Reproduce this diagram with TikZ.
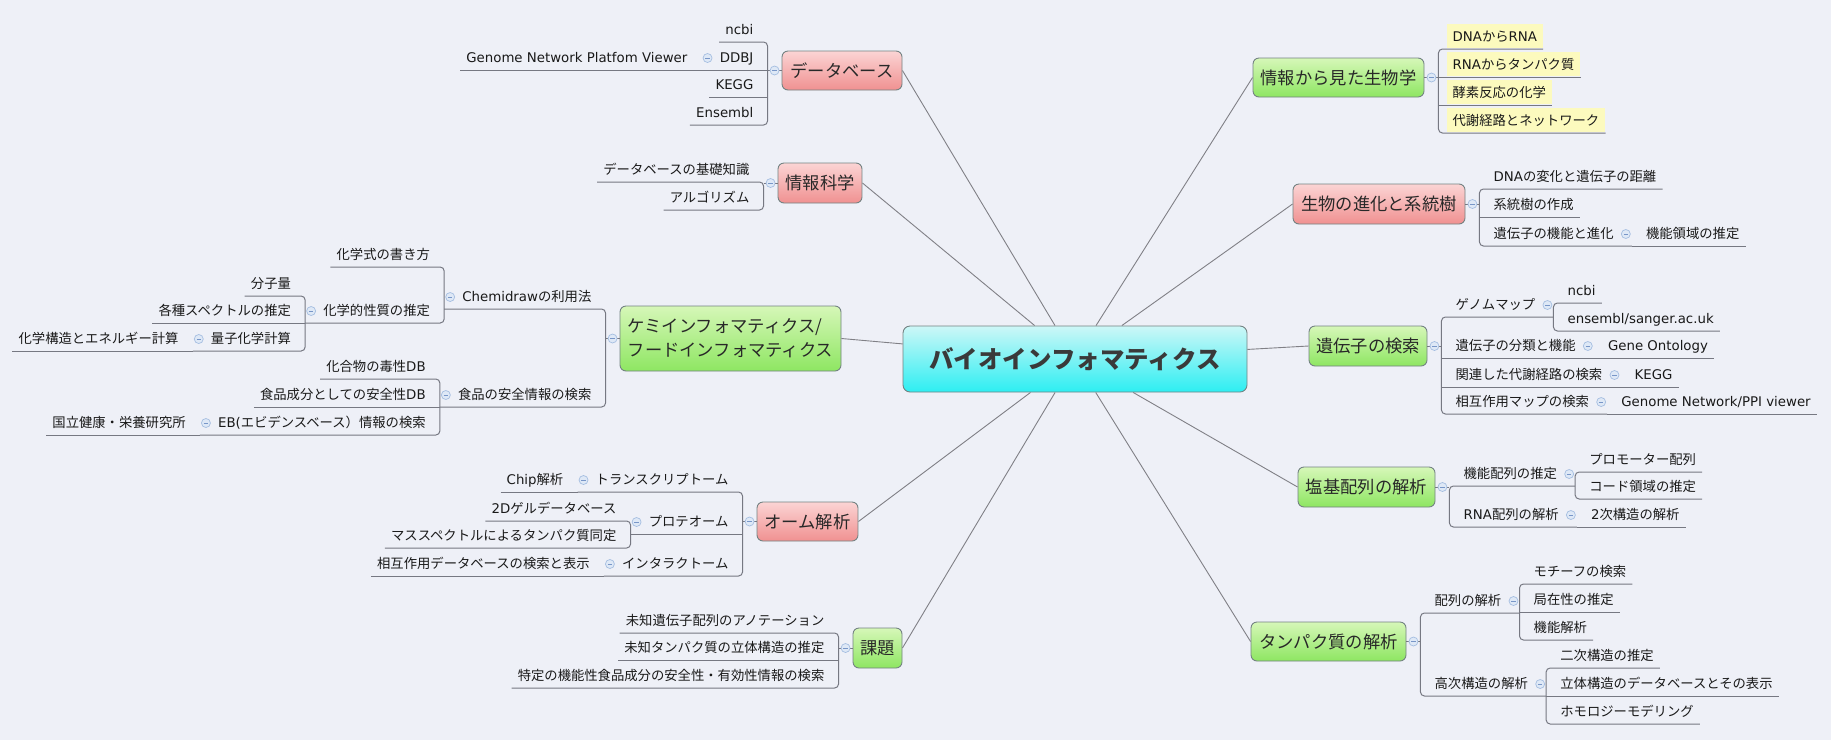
\documentclass[tikz,border=0pt]{standalone}
\usepackage{fontspec}
\setmainfont{Noto Sans CJK JP}
\newfontfamily\lat{DejaVu Sans}
\usetikzlibrary{calc}
\definecolor{bgc}{RGB}{238,240,247}
\definecolor{redtop}{RGB}{251,212,212}
\definecolor{redbot}{RGB}{240,145,145}
\definecolor{grntop}{RGB}{214,247,184}
\definecolor{grnbot}{RGB}{142,230,98}
\definecolor{cyntop}{RGB}{205,247,247}
\definecolor{cynbot}{RGB}{45,238,242}
\definecolor{bordc}{RGB}{115,130,130}
\definecolor{linec}{RGB}{118,120,130}
\definecolor{connc}{RGB}{128,128,134}
\definecolor{btnfill}{RGB}{222,232,246}
\definecolor{btndraw}{RGB}{165,190,225}
\definecolor{btnminus}{RGB}{120,150,200}
\definecolor{hlc}{RGB}{252,250,190}
\definecolor{leaftext}{RGB}{25,25,25}
\definecolor{topictext}{RGB}{40,40,40}
\definecolor{centertext}{RGB}{58,58,58}
\newcommand\leaffont{\fontsize{13.33}{16}\selectfont}
\newcommand\hlbx[1]{{\setlength{\fboxsep}{0pt}\colorbox{hlc}{\rule[-6.5pt]{0pt}{24pt}\hspace*{6pt}#1\hspace*{6pt}}}}
\begin{document}
\begin{tikzpicture}[x=1pt,y=-1pt,
 topic/.style={draw=bordc, line width=0.9pt, rounded corners=6pt, inner sep=0pt, font=\fontsize{17.3}{24}\selectfont, text=topictext},
 rt/.style={top color=redtop, bottom color=redbot},
 gt/.style={top color=grntop, bottom color=grnbot},
 leafbase/.style={inner sep=0pt, font=\leaffont, text=leaftext, text height=12pt, text depth=7pt},
 lR/.style={leafbase, anchor=south west, execute at begin node={\hspace*{14pt}}, execute at end node={\hspace*{6pt}}},
 pR/.style={leafbase, anchor=south west, execute at begin node={\hspace*{14pt}}, execute at end node={\hspace*{18pt}}},
 hlR/.style={leafbase, anchor=south west, execute at begin node={\hspace*{8pt}}},
 lL/.style={leafbase, anchor=south east, execute at begin node={\hspace*{6pt}}, execute at end node={\hspace*{14pt}}},
 pL/.style={leafbase, anchor=south east, execute at begin node={\hspace*{18pt}}, execute at end node={\hspace*{14pt}}},
 ln/.style={draw=linec, line width=1pt},
 br/.style={ln, rounded corners=4pt},
 conn/.style={draw=connc, line width=0.9pt},
 btn/.style={circle, inner sep=0pt, minimum size=9pt, fill=btnfill, draw=btndraw, line width=0.7pt,
   path picture={\draw[draw=btnminus, line width=0.9pt] ([xshift=-2.2pt]path picture bounding box.center) -- ([xshift=2.2pt]path picture bounding box.center);}}
]
\fill[bgc] (0,0) rectangle (1831,740);
\useasboundingbox (0,0) rectangle (1831,740);

% ---------- central and main topics ----------
\node[draw=bordc, line width=0.9pt, rounded corners=7pt, top color=cyntop, bottom color=cynbot, minimum width=344pt, minimum height=66pt, inner sep=0pt, font=\fontsize{24.5}{28}\selectfont\bfseries, text=centertext] (c) at (1075,359) {バイオインフォマティクス};

\node[topic, rt, minimum width=120pt, minimum height=39pt] (db) at (842,70.5) {データベース};
\node[topic, rt, minimum width=84pt, minimum height=40pt] (info) at (820,183) {情報科学};
\node[topic, gt, minimum width=221pt, minimum height=65pt, align=left] (chem) at (730.5,338.5) {ケミインフォマティクス/\\フードインフォマティクス};
\node[topic, rt, minimum width=101pt, minimum height=39pt] (ome) at (807.5,521.5) {オーム解析};
\node[topic, gt, minimum width=49pt, minimum height=40pt] (kadai) at (877.5,648) {課題};
\node[topic, gt, minimum width=171pt, minimum height=39pt] (bio) at (1338.5,77.5) {情報から見た生物学};
\node[topic, rt, minimum width=172pt, minimum height=40pt] (evo) at (1379,204) {生物の進化と系統樹};
\node[topic, gt, minimum width=118pt, minimum height=40pt] (gene) at (1368,346) {遺伝子の検索};
\node[topic, gt, minimum width=137pt, minimum height=40pt] (base) at (1366.5,487) {塩基配列の解析};
\node[topic, gt, minimum width=155pt, minimum height=39pt] (prot) at (1328.5,641.5) {タンパク質の解析};

\foreach \n in {db,info,chem,ome,kadai} \draw[conn] (c) -- (\n.east);
\foreach \n in {bio,evo,gene,base,prot} \draw[conn] (c) -- (\n.west);

% ---------- right: bio ----------
\node[hlR] (b1) at ($(bio.east)+(14,-28.5)$) {\hlbx{{\lat DNA}から{\lat RNA}}};
\node[hlR] (b2) at ($(bio.east)+(14,-0.5)$) {\hlbx{{\lat RNA}からタンパク質}};
\node[hlR] (b3) at ($(bio.east)+(14,27.5)$) {\hlbx{酵素反応の化学}};
\node[hlR] (b4) at ($(bio.east)+(14,55.5)$) {\hlbx{代謝経路とネットワーク}};
\draw[ln] (bio.east) -- (bio.east -| b1.south west);
\draw[br] (b1.south east) -- (b1.south west) -- (b4.south west) -- (b4.south east);
\draw[ln] (b2.south west) -- (b2.south east);
\draw[ln] (b3.south west) -- (b3.south east);
\node[btn] at ($(bio.east)+(7,0)$) {};

% ---------- right: evo ----------
\node[lR] (e1) at ($(evo.east)+(14,-15)$) {{\lat DNA}の変化と遺伝子の距離};
\node[lR] (e2) at ($(evo.east)+(14,13)$) {系統樹の作成};
\node[pR] (e3) at ($(evo.east)+(14,42)$) {遺伝子の機能と進化};
\node[lR] (e3a) at (e3.south east) {機能領域の推定};
\draw[ln] (evo.east) -- (evo.east -| e1.south west);
\draw[br] (e1.south east) -- (e1.south west) -- (e3.south west) -- (e3.south east);
\draw[ln] (e2.south west) -- (e2.south east);
\draw[ln] (e3a.south west) -- (e3a.south east);
\node[btn] at ($(evo.east)+(7,0)$) {};
\node[btn] at ($(e3.south east)+(-6,-12)$) {};

% ---------- right: gene ----------
\node[pR] (g1) at ($(gene.east)+(14,-29)$) {ゲノムマップ};
\node[lR] (g1a) at ($(g1.south east)+(0,-14)$) {\lat ncbi};
\node[lR] (g1b) at ($(g1.south east)+(0,14)$) {\lat ensembl/sanger.ac.uk};
\node[pR] (g2) at ($(gene.east)+(14,12)$) {遺伝子の分類と機能};
\node[lR] (g2a) at (g2.south east) {\lat Gene Ontology};
\node[pR] (g3) at ($(gene.east)+(14,41)$) {関連した代謝経路の検索};
\node[lR] (g3a) at (g3.south east) {\lat KEGG};
\node[pR] (g4) at ($(gene.east)+(14,68)$) {相互作用マップの検索};
\node[lR] (g4a) at (g4.south east) {\lat Genome Network/PPI viewer};
\draw[ln] (gene.east) -- (gene.east -| g1.south west);
\draw[br] (g1.south east) -- (g1.south west) -- (g4.south west) -- (g4.south east);
\draw[br] (g1a.south east) -- (g1a.south west) -- (g1b.south west) -- (g1b.south east);
\draw[ln] (g2.south west) -- (g2.south east);
\draw[ln] (g3.south west) -- (g3.south east);
\draw[ln] (g2a.south west) -- (g2a.south east);
\draw[ln] (g3a.south west) -- (g3a.south east);
\draw[ln] (g4a.south west) -- (g4a.south east);
\node[btn] at ($(gene.east)+(7,0)$) {};
\node[btn] at ($(g1.south east)+(-6,-12)$) {};
\node[btn] at ($(g2.south east)+(-6,-12)$) {};
\node[btn] at ($(g3.south east)+(-6,-12)$) {};
\node[btn] at ($(g4.south east)+(-6,-12)$) {};

% ---------- right: base ----------
\node[pR] (s1) at ($(base.east)+(14,-1)$) {機能配列の推定};
\node[lR] (s1a) at ($(s1.south east)+(0,-14)$) {プロモーター配列};
\node[lR] (s1b) at ($(s1.south east)+(0,13)$) {コード領域の推定};
\node[pR] (s2) at ($(base.east)+(14,40)$) {{\lat RNA}配列の解析};
\node[lR] (s2a) at (s2.south east) {{\lat 2}次構造の解析};
\draw[ln] (base.east) -- (base.east -| s1.south west);
\draw[br] (s1.south east) -- (s1.south west) -- (s2.south west) -- (s2.south east);
\draw[br] (s1a.south east) -- (s1a.south west) -- (s1b.south west) -- (s1b.south east);
\draw[ln] (s2a.south west) -- (s2a.south east);
\node[btn] at ($(base.east)+(7,0)$) {};
\node[btn] at ($(s1.south east)+(-6,-12)$) {};
\node[btn] at ($(s2.south east)+(-6,-12)$) {};

% ---------- right: prot ----------
\node[pR] (p1) at ($(prot.east)+(14,-28.5)$) {配列の解析};
\node[lR] (p1a) at ($(p1.south east)+(0,-29)$) {モチーフの検索};
\node[lR] (p1b) at ($(p1.south east)+(0,-1)$) {局在性の推定};
\node[lR] (p1c) at ($(p1.south east)+(0,27)$) {機能解析};
\node[pR] (p2) at ($(prot.east)+(14,54.5)$) {高次構造の解析};
\node[lR] (p2a) at ($(p2.south east)+(0,-28)$) {二次構造の推定};
\node[lR] (p2b) at (p2.south east) {立体構造のデータベースとその表示};
\node[lR] (p2c) at ($(p2.south east)+(0,28)$) {ホモロジーモデリング};
\draw[ln] (prot.east) -- (prot.east -| p1.south west);
\draw[br] (p1.south east) -- (p1.south west) -- (p2.south west) -- (p2.south east);
\draw[br] (p1a.south east) -- (p1a.south west) -- (p1c.south west) -- (p1c.south east);
\draw[ln] (p1b.south west) -- (p1b.south east);
\draw[br] (p2a.south east) -- (p2a.south west) -- (p2c.south west) -- (p2c.south east);
\draw[ln] (p2b.south west) -- (p2b.south east);
\node[btn] at ($(prot.east)+(7,0)$) {};
\node[btn] at ($(p1.south east)+(-6,-12)$) {};
\node[btn] at ($(p2.south east)+(-6,-12)$) {};

% ---------- left: db ----------
\node[lL] (d1) at ($(db.west)+(-14,-28.5)$) {\lat ncbi};
\node[pL] (d2) at ($(db.west)+(-14,-0.5)$) {\lat DDBJ};
\node[lL] (d2a) at (d2.south west) {\lat Genome Network Platfom Viewer};
\node[lL] (d3) at ($(db.west)+(-14,26.5)$) {\lat KEGG};
\node[lL] (d4) at ($(db.west)+(-14,54.5)$) {\lat Ensembl};
\draw[ln] (db.west) -- (db.west -| d1.south east);
\draw[br] (d1.south west) -- (d1.south east) -- (d4.south east) -- (d4.south west);
\draw[ln] (d2a.south west) -- (d2a.south east);
\draw[ln] (d2.south west) -- (d2.south east);
\draw[ln] (d3.south west) -- (d3.south east);
\node[btn] at ($(db.west)+(-7,0)$) {};
\node[btn] at ($(d2.south west)+(6,-12)$) {};

% ---------- left: info ----------
\node[lL] (i1) at ($(info.west)+(-14,-1)$) {データベースの基礎知識};
\node[lL] (i2) at ($(info.west)+(-14,27)$) {アルゴリズム};
\draw[ln] (info.west) -- (info.west -| i1.south east);
\draw[br] (i1.south west) -- (i1.south east) -- (i2.south east) -- (i2.south west);
\node[btn] at ($(info.west)+(-7,0)$) {};

% ---------- left: chem ----------
\node[pL] (ch1) at ($(chem.west)+(-14,-29.5)$) {{\lat Chemidraw}の利用法};
\node[lL] (ch1a) at ($(ch1.south west)+(0,-42)$) {化学式の書き方};
\node[pL] (ch1b) at ($(ch1.south west)+(0,14)$) {化学的性質の推定};
\node[lL] (ch1b1) at ($(ch1b.south west)+(0,-27)$) {分子量};
\node[lL] (ch1b2) at (ch1b.south west) {各種スペクトルの推定};
\node[pL] (ch1b3) at ($(ch1b.south west)+(0,28)$) {量子化学計算};
\node[lL] (ch1b3a) at (ch1b3.south west) {化学構造とエネルギー計算};
\node[pL] (ch2) at ($(chem.west)+(-14,68.5)$) {食品の安全情報の検索};
\node[lL] (ch2a) at ($(ch2.south west)+(0,-28)$) {化合物の毒性{\lat DB}};
\node[lL] (ch2b) at (ch2.south west) {食品成分としての安全性{\lat DB}};
\node[pL] (ch2c) at ($(ch2.south west)+(0,28)$) {{\lat EB(}エビデンスベース）情報の検索};
\node[lL] (ch2c1) at (ch2c.south west) {国立健康・栄養研究所};
\draw[ln] (chem.west) -- (chem.west -| ch1.south east);
\draw[br] (ch1.south west) -- (ch1.south east) -- (ch2.south east) -- (ch2.south west);
\draw[br] (ch1a.south west) -- (ch1a.south east) -- (ch1b.south east) -- (ch1b.south west);
\draw[br] (ch1b1.south west) -- (ch1b1.south east) -- (ch1b3.south east) -- (ch1b3.south west);
\draw[ln] (ch1b2.south west) -- (ch1b2.south east);
\draw[ln] (ch1b3a.south west) -- (ch1b3a.south east);
\draw[br] (ch2a.south west) -- (ch2a.south east) -- (ch2c.south east) -- (ch2c.south west);
\draw[ln] (ch2b.south west) -- (ch2b.south east);
\draw[ln] (ch2c1.south west) -- (ch2c1.south east);
\node[btn] at ($(chem.west)+(-7,0)$) {};
\node[btn] at ($(ch1.south west)+(6,-12)$) {};
\node[btn] at ($(ch1b.south west)+(6,-12)$) {};
\node[btn] at ($(ch1b3.south west)+(6,-12)$) {};
\node[btn] at ($(ch2.south west)+(6,-12)$) {};
\node[btn] at ($(ch2c.south west)+(6,-12)$) {};

% ---------- left: ome ----------
\node[pL] (o1) at ($(ome.west)+(-14,-29.5)$) {トランスクリプトーム};
\node[lL] (o1a) at (o1.south west) {{\lat Chip}解析};
\node[pL] (o2) at ($(ome.west)+(-14,12.5)$) {プロテオーム};
\node[lL] (o2a) at ($(o2.south west)+(0,-13)$) {{\lat 2D}ゲルデータベース};
\node[lL] (o2b) at ($(o2.south west)+(0,14)$) {マススペクトルによるタンパク質同定};
\node[pL] (o3) at ($(ome.west)+(-14,54.5)$) {インタラクトーム};
\node[lL] (o3a) at (o3.south west) {相互作用データベースの検索と表示};
\draw[ln] (ome.west) -- (ome.west -| o1.south east);
\draw[br] (o1.south west) -- (o1.south east) -- (o3.south east) -- (o3.south west);
\draw[ln] (o1a.south west) -- (o1a.south east);
\draw[ln] (o2.south west) -- (o2.south east);
\draw[br] (o2a.south west) -- (o2a.south east) -- (o2b.south east) -- (o2b.south west);
\draw[ln] (o3a.south west) -- (o3a.south east);
\node[btn] at ($(ome.west)+(-7,0)$) {};
\node[btn] at ($(o1.south west)+(6,-12)$) {};
\node[btn] at ($(o2.south west)+(6,-12)$) {};
\node[btn] at ($(o3.south west)+(6,-12)$) {};

% ---------- left: kadai ----------
\node[lL] (k1) at ($(kadai.west)+(-14,-15)$) {未知遺伝子配列のアノテーション};
\node[lL] (k2) at ($(kadai.west)+(-14,12)$) {未知タンパク質の立体構造の推定};
\node[lL] (k3) at ($(kadai.west)+(-14,40)$) {特定の機能性食品成分の安全性・有効性情報の検索};
\draw[ln] (kadai.west) -- (kadai.west -| k1.south east);
\draw[br] (k1.south west) -- (k1.south east) -- (k3.south east) -- (k3.south west);
\draw[ln] (k2.south west) -- (k2.south east);
\node[btn] at ($(kadai.west)+(-7,0)$) {};
\end{tikzpicture}
\end{document}
